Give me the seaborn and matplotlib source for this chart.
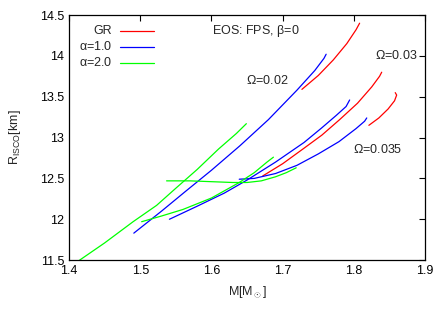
import matplotlib
matplotlib.use("Agg")
import matplotlib.pyplot as plt
import seaborn as sns

# GR (red) curves, one per rotation rate
gr_02_m = [1.727, 1.750, 1.771, 1.790, 1.803, 1.808]
gr_02_r = [13.59, 13.76, 13.95, 14.15, 14.32, 14.40]
gr_03_m = [1.672, 1.700, 1.730, 1.755, 1.780, 1.805, 1.825, 1.836, 1.839]
gr_03_r = [12.53, 12.68, 12.87, 13.03, 13.22, 13.42, 13.62, 13.75, 13.80]
gr_035_m = [1.821, 1.835, 1.848, 1.857, 1.860, 1.858]
gr_035_r = [13.15, 13.24, 13.35, 13.45, 13.52, 13.55]

# alpha = 1.0 (blue)
a1_02_m = [1.491, 1.530, 1.562, 1.600, 1.640, 1.680, 1.720, 1.745, 1.758, 1.761]
a1_02_r = [11.83, 12.10, 12.33, 12.60, 12.90, 13.22, 13.58, 13.82, 13.97, 14.02]
a1_03_m = [1.541, 1.580, 1.618, 1.650, 1.690, 1.730, 1.755, 1.775, 1.789, 1.794]
a1_03_r = [12.00, 12.16, 12.32, 12.48, 12.70, 12.94, 13.12, 13.27, 13.38, 13.46]
a1_035_m = [1.639, 1.660, 1.690, 1.720, 1.750, 1.779, 1.803, 1.815, 1.818]
a1_035_r = [12.49, 12.50, 12.56, 12.66, 12.80, 12.95, 13.11, 13.20, 13.24]

# alpha = 2.0 (green)
a2_02_m = [1.410, 1.450, 1.490, 1.523, 1.550, 1.580, 1.610, 1.635, 1.649]
a2_02_r = [11.47, 11.71, 11.97, 12.17, 12.38, 12.61, 12.86, 13.05, 13.17]
a2_03_m = [1.502, 1.530, 1.560, 1.600, 1.639, 1.660, 1.678, 1.687]
a2_03_r = [11.97, 12.04, 12.12, 12.26, 12.45, 12.57, 12.70, 12.76]
a2_035_m = [1.537, 1.570, 1.600, 1.630, 1.650, 1.670, 1.690, 1.705, 1.719]
a2_035_r = [12.47, 12.47, 12.46, 12.45, 12.45, 12.47, 12.52, 12.57, 12.63]

curves = [
    (gr_02_m, gr_02_r, "red"), (gr_03_m, gr_03_r, "red"), (gr_035_m, gr_035_r, "red"),
    (a1_02_m, a1_02_r, "blue"), (a1_03_m, a1_03_r, "blue"), (a1_035_m, a1_035_r, "blue"),
    (a2_02_m, a2_02_r, "#00ff00"), (a2_03_m, a2_03_r, "#00ff00"), (a2_035_m, a2_035_r, "#00ff00"),
]
legend_labels = ["GR", r"$\alpha$=1.0", r"$\alpha$=2.0"]
legend_colors = ["red", "blue", "#00ff00"]

x_ticks = [1.4, 1.5, 1.6, 1.7, 1.8, 1.9]
x_labels = ["1.4", "1.5", "1.6", "1.7", "1.8", "1.9"]
y_ticks = [11.5, 12, 12.5, 13, 13.5, 14, 14.5]
y_labels = ["11.5", "12", "12.5", "13", "13.5", "14", "14.5"]

sns.set_style("white")
plt.rcParams["font.family"] = ["Liberation Sans", "DejaVu Sans"]
plt.rcParams["mathtext.fontset"] = "custom"
plt.rcParams["mathtext.rm"] = "Liberation Sans"
plt.rcParams["mathtext.it"] = "Liberation Sans"
FS = 9

fig = plt.figure(figsize=(4.48, 3.13), dpi=100)
ax = fig.add_axes([0.154, 0.169, 0.795, 0.783])

for m, r, c in curves:
    sns.lineplot(x=m, y=r, sort=False, estimator=None, color=c, lw=0.9, ax=ax)

ax.set_xlim(1.4, 1.9)
ax.set_ylim(11.5, 14.5)
ax.set_xticks(x_ticks, x_labels, fontsize=FS)
ax.set_yticks(y_ticks, y_labels, fontsize=FS)
ax.tick_params(direction="in", length=4, width=0.8, top=True, right=True, colors="black")
for s in ax.spines.values():
    s.set_color("black")
    s.set_linewidth(0.9)

ax.set_xlabel(r"M[M$_\odot$]", fontsize=FS, labelpad=5)
ax.set_ylabel(r"R$_\mathregular{ISCO}$[km]", fontsize=FS, labelpad=12)

# gnuplot-like key: right-aligned text, sample line to the right
for i, (lab, c) in enumerate(zip(legend_labels, legend_colors)):
    yy = 0.935 - i * 0.065
    ax.text(0.121, yy, lab, ha="right", va="center", fontsize=FS, transform=ax.transAxes)
    ax.plot([0.143, 0.239], [yy, yy], color=c, lw=0.9, transform=ax.transAxes)

ax.text(0.402, 0.935, r"EOS: FPS, $\beta$=0", ha="left", va="center", fontsize=FS,
        transform=ax.transAxes)
ax.text(1.649, 13.70, r"$\Omega$=0.02", ha="left", va="center", fontsize=FS)
ax.text(1.829, 14.00, r"$\Omega$=0.03", ha="left", va="center", fontsize=FS)
ax.text(1.799, 12.85, r"$\Omega$=0.035", ha="left", va="center", fontsize=FS)

fig.savefig("out.png", dpi=100)
